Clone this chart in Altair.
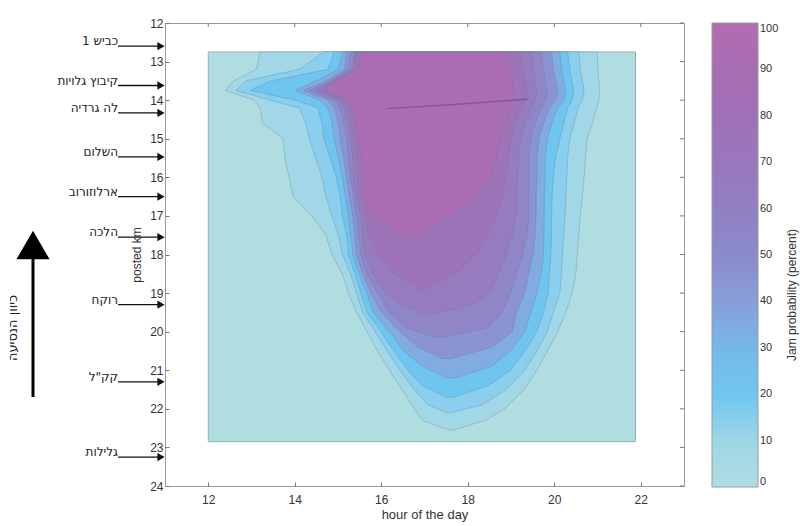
import altair as alt
import pandas as pd

# ---------------- axes ----------------
x_domain = [11, 23]
y_domain = [12, 24]
x_ticks = [12, 14, 16, 18, 20, 22]
y_ticks = list(range(12, 25))

# extent of the measured grid (hour, km)
grid_hours = [12.0, 21.88]
grid_km = [12.75, 22.85]

# ---------------- colour bar ----------------
colorbar_ticks = [0, 10, 20, 30, 40, 50, 60, 70, 80, 90, 100]
colorbar_colors = ["#afdde0", "#9ed6e7", "#6fc6f0", "#76b7ea", "#879ed9", "#8b8acb",
                   "#9080c3", "#9877bc", "#9f71b7", "#a86db3", "#b36bb1"]

# ---------------- filled contour levels ----------------
levels = [10, 20, 30, 40, 50, 60, 70, 80, 90]
band_colors = ["#a2d7e7", "#8acfee", "#6ec5f0", "#80ace2", "#8b93d3",
               "#9085c7", "#977bbf", "#9f73b8", "#aa6db3"]

km10 = [12.75, 13.2, 13.5, 13.75, 14.0, 14.2, 14.6, 15.0, 15.5, 16.0, 16.5, 17.0, 17.5, 18.0, 18.5, 19.0, 19.5, 20.0, 20.5, 21.0, 21.5, 22.0, 22.3, 22.55]
left10 = [13.20, 13.11, 12.59, 12.40, 13.06, 13.20, 13.25, 13.73, 13.77, 13.87, 13.96, 14.39, 14.72, 14.86, 15.10, 15.24, 15.43, 15.67, 15.91, 16.19, 16.48, 16.76, 16.95, 17.57]
right10 = [20.99, 21.01, 21.03, 21.05, 21.03, 20.98, 20.88, 20.76, 20.72, 20.69, 20.65, 20.60, 20.57, 20.53, 20.50, 20.41, 20.27, 20.08, 19.84, 19.60, 19.30, 18.85, 18.40, 17.66]

km20 = [12.75, 13.2, 13.5, 13.75, 14.0, 14.2, 14.6, 15.0, 15.5, 16.0, 16.5, 17.0, 17.5, 18.0, 18.5, 19.0, 19.5, 20.0, 20.5, 21.0, 21.5, 21.9, 22.1]
left20 = [14.67, 14.11, 12.87, 12.64, 13.44, 14.11, 14.25, 14.34, 14.48, 14.63, 14.72, 14.86, 15.01, 15.10, 15.29, 15.43, 15.57, 15.86, 16.14, 16.43, 16.76, 17.09, 17.52]
right20 = [20.57, 20.60, 20.65, 20.69, 20.65, 20.55, 20.46, 20.36, 20.31, 20.29, 20.27, 20.25, 20.22, 20.19, 20.17, 20.13, 19.98, 19.84, 19.60, 19.32, 18.89, 18.32, 17.61]

km30 = [12.75, 13.2, 13.5, 13.75, 14.0, 14.2, 14.6, 15.0, 15.5, 16.0, 16.5, 17.0, 17.5, 18.0, 18.5, 19.0, 19.5, 20.0, 20.5, 21.0, 21.4, 21.7]
left30 = [14.91, 14.77, 13.44, 12.97, 14.01, 14.53, 14.63, 14.67, 14.82, 14.96, 15.05, 15.10, 15.20, 15.24, 15.39, 15.53, 15.67, 16.00, 16.29, 16.62, 16.95, 17.52]
right30 = [20.31, 20.36, 20.41, 20.46, 20.41, 20.31, 20.22, 20.13, 20.03, 19.98, 19.95, 19.94, 19.94, 19.92, 19.89, 19.86, 19.75, 19.60, 19.32, 18.99, 18.47, 17.66]

km40 = [12.75, 13.2, 13.5, 13.75, 14.0, 14.2, 14.6, 15.0, 15.5, 16.0, 16.5, 17.0, 17.5, 18.0, 18.5, 19.0, 19.5, 20.0, 20.5, 20.9, 21.2]
left40 = [15.10, 15.01, 14.48, 14.01, 14.58, 14.77, 14.86, 14.91, 15.01, 15.10, 15.17, 15.24, 15.29, 15.34, 15.48, 15.67, 15.81, 16.19, 16.52, 16.95, 17.52]
right40 = [20.13, 20.17, 20.22, 20.27, 20.22, 20.08, 19.94, 19.84, 19.79, 19.79, 19.77, 19.77, 19.76, 19.75, 19.70, 19.60, 19.46, 19.32, 18.99, 18.56, 17.71]

km50 = [12.75, 13.2, 13.5, 13.75, 14.0, 14.2, 14.6, 15.0, 15.5, 16.0, 16.5, 17.0, 17.5, 18.0, 18.5, 19.0, 19.5, 20.0, 20.4, 20.7]
left50 = [15.20, 15.15, 14.72, 14.20, 14.77, 14.91, 15.01, 15.05, 15.13, 15.20, 15.26, 15.34, 15.39, 15.43, 15.57, 15.76, 16.00, 16.43, 16.85, 17.42]
right50 = [19.94, 19.98, 20.03, 20.08, 20.03, 19.89, 19.75, 19.65, 19.60, 19.60, 19.58, 19.58, 19.56, 19.51, 19.41, 19.32, 19.13, 19.03, 18.56, 17.61]

km60 = [12.75, 13.2, 13.5, 13.75, 14.0, 14.2, 14.6, 15.0, 15.5, 16.0, 16.5, 17.0, 17.5, 18.0, 18.5, 19.0, 19.5, 19.9, 20.15]
left60 = [15.29, 15.24, 14.82, 14.34, 14.91, 15.05, 15.13, 15.20, 15.24, 15.29, 15.36, 15.43, 15.48, 15.53, 15.67, 15.91, 16.19, 16.57, 17.23]
right60 = [19.70, 19.75, 19.79, 19.84, 19.79, 19.70, 19.56, 19.46, 19.41, 19.41, 19.41, 19.41, 19.37, 19.27, 19.13, 18.99, 18.80, 18.47, 17.42]

km70 = [12.75, 13.2, 13.5, 13.75, 14.0, 14.2, 14.6, 15.0, 15.5, 16.0, 16.5, 17.0, 17.5, 18.0, 18.5, 19.0, 19.3, 19.55]
left70 = [15.39, 15.34, 14.86, 14.48, 15.01, 15.15, 15.22, 15.29, 15.34, 15.36, 15.43, 15.53, 15.57, 15.62, 15.81, 16.10, 16.48, 17.04]
right70 = [19.46, 19.51, 19.56, 19.60, 19.56, 19.46, 19.32, 19.22, 19.18, 19.15, 19.13, 19.11, 19.03, 18.89, 18.70, 18.51, 18.09, 17.23]

km80 = [12.75, 13.2, 13.5, 13.75, 14.0, 14.2, 14.6, 15.0, 15.5, 16.0, 16.5, 17.0, 17.5, 18.0, 18.5, 18.9]
left80 = [15.43, 15.39, 14.91, 14.58, 15.10, 15.24, 15.31, 15.39, 15.43, 15.45, 15.53, 15.62, 15.72, 15.91, 16.29, 16.90]
right80 = [19.22, 19.27, 19.32, 19.37, 19.32, 19.22, 19.08, 18.99, 18.94, 18.89, 18.80, 18.66, 18.47, 18.18, 17.71, 17.00]

km90 = [12.75, 13.2, 13.5, 13.75, 14.0, 14.2, 14.6, 15.0, 15.5, 16.0, 16.5, 17.0, 17.3, 17.55]
left90 = [15.53, 15.48, 14.96, 14.67, 15.20, 15.34, 15.41, 15.48, 15.53, 15.55, 15.60, 15.81, 16.19, 16.62]
right90 = [18.94, 18.99, 19.03, 19.08, 19.03, 18.99, 18.85, 18.75, 18.66, 18.51, 18.18, 17.61, 17.14, 16.71]

# thin isoline inside the core
ridge_hours = [16.14, 17.61, 19.41]
ridge_km = [14.22, 14.12, 13.97]

# ---------------- interchanges (left annotations) ----------------
junction_names = ["כביש 1", "קיבוץ גלויות", "לה גרדיה", "השלום", "ארלוזורוב",
                  "הלכה", "רוקח", "קק\"ל", "גלילות"]
junction_km = [12.6, 13.62, 14.33, 15.47, 16.5, 17.55, 19.3, 21.3, 23.25]

direction_label = "כיוון הנסיעה"
x_title = "hour of the day"
y_title = "posted km"
cbar_title = "Jam probability (percent)"

FONT = "Liberation Sans"
HEB_FONT = "DejaVu Sans"

xs = alt.Scale(domain=x_domain, nice=False, zero=False)
ys = alt.Scale(domain=y_domain, reverse=True, nice=False, zero=False)

AX = alt.Axis(values=x_ticks, title=x_title, grid=False, domain=False,
              tickSize=4, offset=-4, tickColor="#777",
              labelPadding=8, titlePadding=3, labelFontSize=12,
              titleFontSize=13, labelFont=FONT, titleFont=FONT,
              titleFontWeight="normal", labelColor="#333", titleColor="#333")
AY = alt.Axis(values=y_ticks, title=None, grid=False, domain=False,
              tickSize=4, offset=-4, tickColor="#777", labelOverlap=False,
              labelPadding=2, labelFontSize=12, labelFont=FONT,
              labelColor="#333")


def X(field):
    return alt.X(field, scale=xs, axis=AX)


def Y(field):
    return alt.Y(field, scale=ys, axis=AY)


# background grid region (also carries the colour bar legend)
bg_df = pd.DataFrame({"h0": [grid_hours[0]], "h1": [grid_hours[1]],
                      "k0": [grid_km[0]], "k1": [grid_km[1]], "p": [0]})
background = alt.Chart(bg_df).mark_rect(stroke="#8fb1b5", strokeWidth=1).encode(
    x=X("h0:Q"), x2="h1:Q", y=Y("k0:Q"), y2="k1:Q",
    color=alt.Color("p:Q",
                    scale=alt.Scale(domain=colorbar_ticks, range=colorbar_colors),
                    legend=alt.Legend(orient="none", legendX=547, legendY=0,
                                      direction="vertical", gradientLength=464,
                                      gradientThickness=46, values=colorbar_ticks,
                                      title=None, labelFont=FONT,
                                      labelFontSize=11, labelColor="#333",
                                      labelOverlap=False, gradientStrokeColor="#999",
                                      gradientStrokeWidth=1)),
)

level_data = [
    (km10, left10, right10), (km20, left20, right20), (km30, left30, right30),
    (km40, left40, right40), (km50, left50, right50), (km60, left60, right60),
    (km70, left70, right70), (km80, left80, right80), (km90, left90, right90),
]

layers = [background]
for lev, col, (k, l, r) in zip(levels, band_colors, level_data):
    df = pd.DataFrame({"km": k, "left": l, "right": r, "level": lev})
    layers.append(
        alt.Chart(df).mark_area(orient="horizontal", color=col, stroke="#5f7f8c",
                                strokeWidth=0.6, strokeOpacity=0.55).encode(
            y=Y("km:Q"), x=X("left:Q"), x2="right:Q")
    )

ridge_df = pd.DataFrame({"h": ridge_hours, "km": ridge_km})
layers.append(alt.Chart(ridge_df).mark_line(color="#7a4f8c", strokeWidth=1.4, opacity=0.8).encode(
    x=X("h:Q"), y=Y("km:Q")))

# mirrored ticks on the top and right edges of the box
tx_df = pd.DataFrame({"h": x_ticks})
ty_df = pd.DataFrame({"km": y_ticks})
layers.append(alt.Chart(tx_df).mark_rule(color="#777", strokeWidth=1).encode(
    x=X("h:Q"), y=alt.value(0), y2=alt.value(4)))
layers.append(alt.Chart(ty_df).mark_rule(color="#777", strokeWidth=1).encode(
    y=Y("km:Q"), x=alt.value(515), x2=alt.value(519)))

# left annotations
j_df = pd.DataFrame({"name": junction_names, "km": junction_km})
layers.append(alt.Chart(j_df).mark_text(align="right", baseline="middle", dy=-5,
                                        font=HEB_FONT, fontSize=12, color="#222").encode(
    x=alt.value(-47), y=Y("km:Q"), text="name:N"))
layers.append(alt.Chart(j_df).mark_rule(color="#111", strokeWidth=1.3).encode(
    x=alt.value(-47), x2=alt.value(-6), y=Y("km:Q")))
layers.append(alt.Chart(j_df).mark_point(shape="triangle-right", filled=True, color="#111",
                                         size=70, opacity=1).encode(
    x=alt.value(-4), y=Y("km:Q")))

# big direction arrow
dir_df = pd.DataFrame({"t": [direction_label]})
layers.append(alt.Chart(dir_df).mark_rule(color="#000", strokeWidth=3).encode(
    x=alt.value(-132), y=alt.value(374), y2=alt.value(236)))
layers.append(alt.Chart(dir_df).mark_point(shape="triangle-up", filled=True, color="#000",
                                           size=1100, opacity=1).encode(
    x=alt.value(-132), y=alt.value(222)))
layers.append(alt.Chart(dir_df).mark_text(angle=270, font=HEB_FONT, fontSize=13,
                                          color="#222", baseline="middle").encode(
    x=alt.value(-152), y=alt.value(305), text="t:N"))

# y axis title
yt_df = pd.DataFrame({"t": [y_title]})
layers.append(alt.Chart(yt_df).mark_text(angle=270, font=FONT, fontSize=12,
                                         color="#333", baseline="middle").encode(
    x=alt.value(-28), y=alt.value(232), text="t:N"))

# colour bar title
ct_df = pd.DataFrame({"t": [cbar_title]})
layers.append(alt.Chart(ct_df).mark_text(angle=270, font=FONT, fontSize=12,
                                         color="#333", baseline="middle").encode(
    x=alt.value(627), y=alt.value(272), text="t:N"))

chart = alt.layer(*layers).properties(
    width=519, height=463,
    padding={"left": 165, "top": 23, "right": 116, "bottom": 40},
    autosize=alt.AutoSizeParams(type="none"),
    background="white",
).configure_view(stroke="#999", strokeWidth=1)

chart.save("out.html", embed_options={"renderer": "svg", "actions": False})
